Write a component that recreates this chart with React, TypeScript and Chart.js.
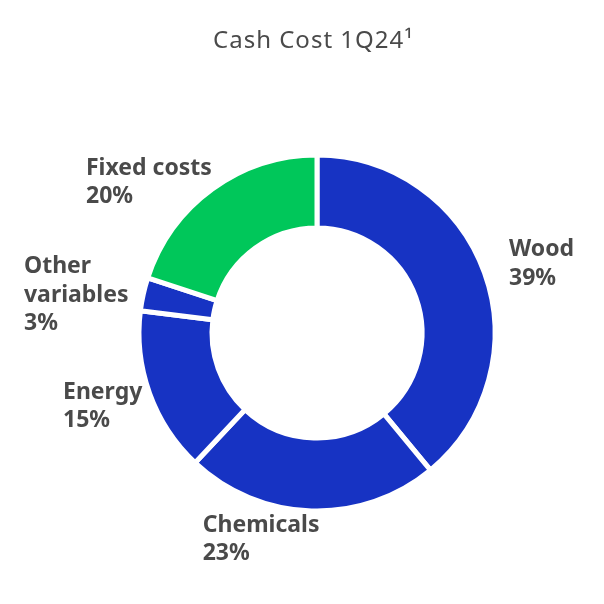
import React, { useEffect, useRef } from "react";
import { Chart, registerables } from "chart.js";

Chart.register(...registerables);

const TITLE = "Cash Cost 1Q24\u00B9";
const categories = ["Wood", "Chemicals", "Energy", "Other variables", "Fixed costs"];
const labelLines = [["Wood"], ["Chemicals"], ["Energy"], ["Other", "variables"], ["Fixed costs"]];
const values = [39, 23, 15, 3, 20];
const colors = ["#1733C3", "#1733C3", "#1733C3", "#1733C3", "#00C75A"];

// label block offsets (left edge, first baseline) relative to the arc's outer mid point
const LABEL_OFFSETS = [
  [24.5, -16.7],
  [-108.7, 20.8],
  [-86.5, 5.7],
  [-119.3, -20.9],
  [-126.4, -14],
];
const LINE_HEIGHT = 28.5;
const TEXT_COLOR = "#4a4a4a";

const labelPlugin = {
  id: "outerLabels",
  afterDraw(chart: any) {
    const ctx = chart.ctx;
    const meta = chart.getDatasetMeta(0);
    ctx.save();
    // title
    ctx.fillStyle = TEXT_COLOR;
    ctx.font = "400 24px 'Noto Sans'";
    (ctx as any).letterSpacing = "1px";
    ctx.textAlign = "left";
    ctx.textBaseline = "alphabetic";
    ctx.fillText(TITLE, 213, 48);
    (ctx as any).letterSpacing = "0px";
    // labels
    ctx.font = "700 23px 'Noto Sans'";
    ctx.textAlign = "left";
    meta.data.forEach((arc: any, i: number) => {
      const { x, y, startAngle, endAngle, outerRadius } = arc.getProps(
        ["x", "y", "startAngle", "endAngle", "outerRadius"],
        true
      );
      const mid = (startAngle + endAngle) / 2;
      const px = x + Math.cos(mid) * outerRadius + LABEL_OFFSETS[i][0];
      const py = y + Math.sin(mid) * outerRadius + LABEL_OFFSETS[i][1];
      const lines = [...labelLines[i], values[i] + "%"];
      lines.forEach((t, k) => ctx.fillText(t, px, py + k * LINE_HEIGHT));
    });
    ctx.restore();
  },
};

export default function App() {
  const ref = useRef<HTMLCanvasElement>(null);
  useEffect(() => {
    document.body.style.margin = "0";
    const chart = new Chart(ref.current!, {
      type: "doughnut",
      data: {
        labels: categories,
        datasets: [
          {
            data: values,
            backgroundColor: colors,
            borderColor: "#ffffff",
            borderWidth: 5,
            hoverOffset: 0,
          },
        ],
      },
      options: {
        responsive: false,
        animation: false,
        devicePixelRatio: 1,
        cutout: "59%",
        layout: { padding: { left: 136.5, right: 106.5, top: 152.5, bottom: 90.5 } },
        plugins: {
          legend: { display: false },
          title: { display: false },
          tooltip: { enabled: false },
        },
      },
      plugins: [labelPlugin],
    });
    return () => chart.destroy();
  }, []);
  return (
    <div style={{ width: 604, height: 604, background: "#fff" }}>
      <canvas ref={ref} width={604} height={604} style={{ width: 604, height: 604 }} />
    </div>
  );
}
